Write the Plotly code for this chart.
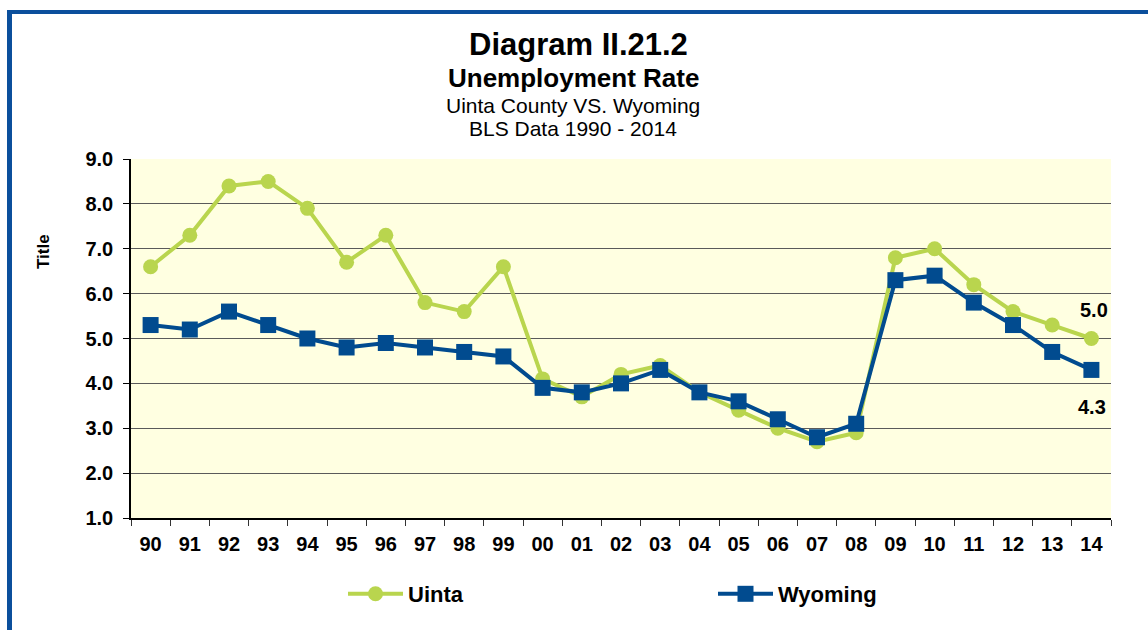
import plotly.graph_objects as go

years = ["90", "91", "92", "93", "94", "95", "96", "97", "98", "99", "00", "01", "02",
         "03", "04", "05", "06", "07", "08", "09", "10", "11", "12", "13", "14"]
uinta = [6.6, 7.3, 8.4, 8.5, 7.9, 6.7, 7.3, 5.8, 5.6, 6.6, 4.1, 3.7, 4.2,
         4.4, 3.8, 3.4, 3.0, 2.7, 2.9, 6.8, 7.0, 6.2, 5.6, 5.3, 5.0]
wyoming = [5.3, 5.2, 5.6, 5.3, 5.0, 4.8, 4.9, 4.8, 4.7, 4.6, 3.9, 3.8, 4.0,
           4.3, 3.8, 3.6, 3.2, 2.8, 3.1, 6.3, 6.4, 5.8, 5.3, 4.7, 4.3]
y_ticks = [1.0, 2.0, 3.0, 4.0, 5.0, 6.0, 7.0, 8.0, 9.0]

GREEN = "#B9D54E"
BLUE = "#014B8F"
FONT = "Liberation Sans, Arial, sans-serif"

W, H = 1148, 630
ML, MR, MT, MB = 131, 37, 159, 112
PW, PH = W - ML - MR, H - MT - MB

def px_x(p):
    return (p - ML) / PW

def px_y(p):
    return (H - MB - p) / PH

fig = go.Figure()
fig.add_trace(go.Scatter(
    x=years, y=uinta, name="Uinta", mode="lines+markers",
    line=dict(color=GREEN, width=4),
    marker=dict(symbol="circle", size=15, color=GREEN),
))
fig.add_trace(go.Scatter(
    x=years, y=wyoming, name="Wyoming", mode="lines+markers",
    line=dict(color=BLUE, width=4),
    marker=dict(symbol="square", size=16, color=BLUE),
))

annotations = [
    dict(text="<b>Diagram II.21.2</b>", x=px_x(578), y=px_y(45), font=dict(size=31)),
    dict(text="<b>Unemployment Rate</b>", x=px_x(573), y=px_y(78), font=dict(size=26)),
    dict(text="Uinta County VS. Wyoming", x=px_x(573), y=px_y(105), font=dict(size=21)),
    dict(text="BLS Data 1990 - 2014", x=px_x(573), y=px_y(129), font=dict(size=21)),
    dict(text="<b>Title</b>", x=px_x(43), y=px_y(252), font=dict(size=17), textangle=-90),
]
for a in annotations:
    a.update(xref="paper", yref="paper", showarrow=False, xanchor="center", yanchor="middle")
    a["font"].update(family=FONT, color="#000000")

last = len(years) - 1
annotations.append(dict(x=last, y=uinta[last], xref="x", yref="y", text="<b>5.0</b>",
                        showarrow=False, yshift=29, xshift=3,
                        font=dict(family=FONT, size=20, color="#000")))
annotations.append(dict(x=last, y=wyoming[last], xref="x", yref="y", text="<b>4.3</b>",
                        showarrow=False, yshift=-37, xshift=1,
                        font=dict(family=FONT, size=20, color="#000")))

shapes = [
    dict(type="line", xref="paper", yref="paper", x0=px_x(9.5), x1=px_x(9.5),
         y0=px_y(700), y1=px_y(12), line=dict(color="#0B4F9C", width=5), layer="above"),
    dict(type="line", xref="paper", yref="paper", x0=px_x(7), x1=px_x(1200),
         y0=px_y(12), y1=px_y(12), line=dict(color="#0B4F9C", width=4), layer="above"),
]

fig.update_layout(
    width=W, height=H,
    margin=dict(l=ML, r=MR, t=MT, b=MB),
    paper_bgcolor="#FFFFFF",
    plot_bgcolor="#FFFFE1",
    font=dict(family=FONT, color="#000000"),
    showlegend=True,
    legend=dict(orientation="h", x=px_x(343), y=px_y(594), xanchor="left", yanchor="middle",
                font=dict(family=FONT, size=22, color="#000", weight="bold"),
                entrywidth=300, entrywidthmode="pixels", itemwidth=55,
                bgcolor="rgba(0,0,0,0)"),
    annotations=annotations,
    shapes=shapes,
)
fig.update_xaxes(
    type="category", categoryorder="array", categoryarray=years,
    range=[-0.5, len(years) - 0.5],
    tickson="boundaries", ticks="outside", ticklen=6, tickcolor="#333", tickwidth=1,
    showline=True, linecolor="#000", linewidth=1.5,
    showgrid=False,
    tickfont=dict(family=FONT, size=20, color="#000", weight="bold"),
    ticklabelstandoff=7,
)
fig.update_yaxes(
    range=[1, 9], tickvals=y_ticks, ticktext=[f"{v:.1f}" for v in y_ticks],
    ticks="outside", ticklen=6, tickcolor="#000", tickwidth=1,
    showline=True, linecolor="#000", linewidth=1.5,
    showgrid=True, gridcolor="#5a5a5a", gridwidth=1.3,
    zeroline=False,
    tickfont=dict(family=FONT, size=20, color="#000", weight="bold"),
    ticklabelstandoff=6,
)

fig.write_html("out.html", config={"displayModeBar": False},
               post_script="document.body.style.margin='0px';")
